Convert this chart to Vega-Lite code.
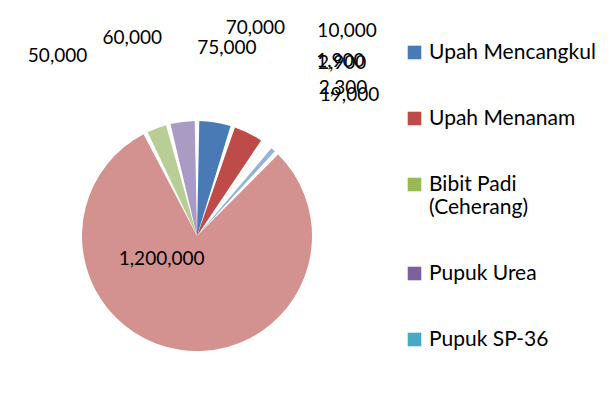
{
  "$schema": "https://vega.github.io/schema/vega-lite/v6.json",
  "width": 394,
  "height": 364,
  "autosize": {"type": "none"},
  "padding": {"left": 0, "top": 54, "right": 216, "bottom": -8},
  "background": "white",
  "config": {"view": {"stroke": null}},
  "data": {
    "values": [
      {"no": 1, "komponen": "Upah Mencangkul", "nilai": 75000},
      {"no": 2, "komponen": "Upah Menanam", "nilai": 70000},
      {"no": 3, "komponen": "Bibit Padi (Ceherang)", "nilai": 10000},
      {"no": 4, "komponen": "Pupuk Urea", "nilai": 1900},
      {"no": 5, "komponen": "Pupuk SP-36", "nilai": 2900},
      {"no": 6, "komponen": "Pupuk Phonska", "nilai": 2300},
      {"no": 7, "komponen": "Pestisida", "nilai": 19000},
      {"no": 8, "komponen": "Sewa Lahan", "nilai": 1200000},
      {"no": 9, "komponen": "Upah Menyiang", "nilai": 50000},
      {"no": 10, "komponen": "Upah Panen", "nilai": 60000}
    ]
  },
  "encoding": {
    "theta": {"field": "nilai", "type": "quantitative", "stack": true},
    "order": {"field": "no", "type": "quantitative"}
  },
  "layer": [
    {
      "mark": {"type": "arc", "outerRadius": 115, "padAngle": 0.04},
      "encoding": {
        "color": {
          "field": "komponen",
          "type": "nominal",
          "scale": {
            "domain": ["Upah Mencangkul", "Upah Menanam", "Bibit Padi (Ceherang)", "Pupuk Urea", "Pupuk SP-36", "Pupuk Phonska", "Pestisida", "Sewa Lahan", "Upah Menyiang", "Upah Panen"],
            "range": ["#4A7AB5", "#BE4B48", "#98B954", "#7D60A0", "#46AAC5", "#F69546", "#95B3D7", "#D3928F", "#B9CE97", "#AA9BC4"]
          },
          "legend": {
            "values": ["Upah Mencangkul", "Upah Menanam", "Bibit Padi (Ceherang)", "Pupuk Urea", "Pupuk SP-36"],
            "title": null,
            "orient": "none",
            "legendX": 404,
            "legendY": -12,
            "symbolType": "square",
            "symbolSize": 185,
            "symbolStrokeWidth": 0,
            "symbolOpacity": 1,
            "labelFont": "Lato",
            "labelFontSize": 21,
            "labelColor": "black",
            "labelOffset": 4,
            "labelLimit": 300,
            "rowPadding": 44,
            "labelExpr": "datum.label == 'Bibit Padi (Ceherang)' ? ['Bibit Padi', '(Ceherang)'] : datum.label"
          }
        }
      }
    },
    {
      "mark": {"type": "text", "radius": 190, "font": "Lato", "fontSize": 19, "fill": "black"},
      "encoding": {
        "detail": {"field": "komponen"},
        "text": {"condition": {"test": "datum.no == 1", "field": "nilai", "type": "quantitative", "format": ","}, "value": ""}
      }
    },
    {
      "mark": {"type": "text", "radius": 216, "thetaOffset": -0.19, "font": "Lato", "fontSize": 19, "fill": "black"},
      "encoding": {
        "detail": {"field": "komponen"},
        "text": {"condition": {"test": "datum.no == 2", "field": "nilai", "type": "quantitative", "format": ","}, "value": ""}
      }
    },
    {
      "mark": {"type": "text", "radius": 208, "thetaOffset": -0.19, "font": "Lato", "fontSize": 19, "fill": "black"},
      "encoding": {
        "detail": {"field": "komponen"},
        "text": {"condition": {"test": "datum.no == 10", "field": "nilai", "type": "quantitative", "format": ","}, "value": ""}
      }
    },
    {
      "mark": {"type": "text", "radius": 228, "thetaOffset": -0.3, "font": "Lato", "fontSize": 19, "fill": "black"},
      "encoding": {
        "detail": {"field": "komponen"},
        "text": {"condition": {"test": "datum.no == 9", "field": "nilai", "type": "quantitative", "format": ","}, "value": ""}
      }
    },
    {
      "mark": {"type": "text", "radius": 254, "font": "Lato", "fontSize": 19, "fill": "black"},
      "encoding": {
        "detail": {"field": "komponen"},
        "text": {"condition": {"test": "datum.no == 3", "field": "nilai", "type": "quantitative", "format": ","}, "value": ""}
      }
    },
    {
      "mark": {"type": "text", "radius": 226, "thetaOffset": 0.03, "font": "Lato", "fontSize": 19, "fill": "black"},
      "encoding": {
        "detail": {"field": "komponen"},
        "text": {"condition": {"test": "datum.no == 4 || datum.no == 5", "field": "nilai", "type": "quantitative", "format": ","}, "value": ""}
      }
    },
    {
      "mark": {"type": "text", "radius": 208, "thetaOffset": 0.1, "font": "Lato", "fontSize": 19, "fill": "black"},
      "encoding": {
        "detail": {"field": "komponen"},
        "text": {"condition": {"test": "datum.no == 6 || datum.no == 7", "field": "nilai", "type": "quantitative", "format": ","}, "value": ""}
      }
    },
    {
      "mark": {"type": "text", "radius": 42, "thetaOffset": 0.85, "font": "Lato", "fontSize": 19, "fill": "black"},
      "encoding": {
        "detail": {"field": "komponen"},
        "text": {"condition": {"test": "datum.no == 8", "field": "nilai", "type": "quantitative", "format": ","}, "value": ""}
      }
    }
  ]
}
